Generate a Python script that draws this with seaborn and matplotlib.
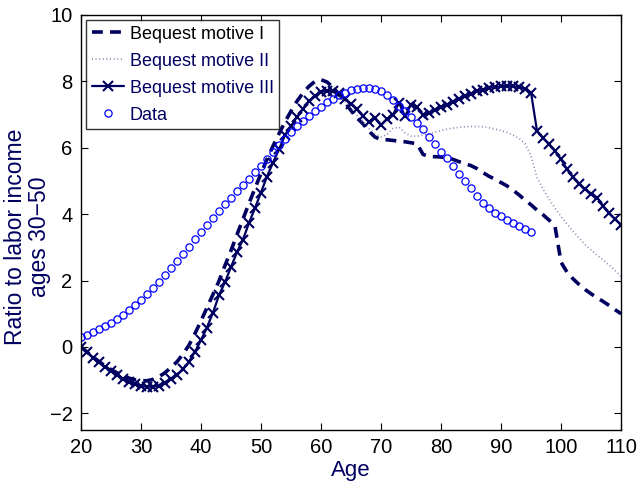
import numpy as np
import pandas as pd
import matplotlib
matplotlib.use("Agg")
import matplotlib.pyplot as plt
import seaborn as sns

ages_model = list(range(20, 111))
ages_data = list(range(20, 96))

bequest_I = [0.00, -0.15, -0.30, -0.44, -0.57, -0.68, -0.78, -0.87, -0.94, -0.99,
             -1.02, -1.02, -0.98, -0.90, -0.78, -0.62, -0.45, -0.22, 0.05, 0.40,
             0.78, 1.18, 1.58, 1.98, 2.45, 2.90, 3.38, 3.85, 4.32, 4.78,
             5.22, 5.65, 6.05, 6.42, 6.78, 7.10, 7.40, 7.65, 7.85, 8.00,
             8.05, 7.98, 7.82, 7.60, 7.38, 7.12, 6.90, 6.72, 6.50, 6.32,
             6.25, 6.24, 6.22, 6.20, 6.18, 6.15, 6.12, 5.80, 5.73, 5.73,
             5.72, 5.70, 5.65, 5.58, 5.52, 5.46, 5.37, 5.25, 5.14, 5.05,
             4.95, 4.85, 4.72, 4.58, 4.42, 4.28, 4.12, 3.98, 3.82, 3.62,
             2.55, 2.25, 2.05, 1.88, 1.73, 1.60, 1.48, 1.37, 1.25, 1.12,
             1.00]

bequest_II = [0.00, -0.15, -0.31, -0.46, -0.59, -0.71, -0.83, -0.94, -1.03, -1.10,
              -1.15, -1.17, -1.16, -1.13, -1.05, -0.94, -0.81, -0.64, -0.42, -0.12,
              0.22, 0.60, 1.05, 1.57, 1.98, 2.42, 2.87, 3.26, 3.75, 4.20,
              4.67, 5.14, 5.56, 5.96, 6.38, 6.66, 6.94, 7.18, 7.40, 7.56,
              7.68, 7.72, 7.68, 7.55, 7.40, 7.20, 6.98, 6.78, 6.58, 6.42,
              6.33, 6.40, 6.58, 6.62, 6.45, 6.35, 6.35, 6.38, 6.42, 6.47,
              6.52, 6.56, 6.59, 6.62, 6.63, 6.64, 6.64, 6.63, 6.60, 6.56,
              6.52, 6.46, 6.38, 6.28, 6.12, 5.75, 5.10, 4.75, 4.45, 4.18,
              3.93, 3.70, 3.48, 3.28, 3.08, 2.92, 2.76, 2.62, 2.47, 2.30,
              2.12]

bequest_III = [0.00, -0.15, -0.32, -0.47, -0.60, -0.72, -0.85, -0.96, -1.06, -1.13,
               -1.18, -1.20, -1.20, -1.17, -1.08, -0.97, -0.84, -0.68, -0.45, -0.15,
               0.20, 0.58, 1.03, 1.55, 1.95, 2.40, 2.85, 3.23, 3.73, 4.18,
               4.65, 5.13, 5.55, 5.95, 6.38, 6.65, 6.93, 7.17, 7.40, 7.55,
               7.68, 7.72, 7.71, 7.65, 7.48, 7.32, 7.16, 6.95, 6.78, 6.90,
               6.68, 6.87, 7.00, 7.35, 6.95, 7.30, 7.22, 7.00, 7.05, 7.15,
               7.22, 7.30, 7.38, 7.47, 7.56, 7.63, 7.70, 7.75, 7.80, 7.83,
               7.85, 7.86, 7.85, 7.83, 7.78, 7.66, 6.50, 6.30, 6.10, 5.90,
               5.65, 5.35, 5.12, 4.92, 4.75, 4.62, 4.50, 4.25, 4.02, 3.85,
               3.68]

data_vals = [0.30, 0.37, 0.45, 0.53, 0.62, 0.73, 0.84, 0.96, 1.10, 1.25,
             1.40, 1.58, 1.77, 1.96, 2.16, 2.37, 2.58, 2.80, 3.02, 3.24,
             3.46, 3.68, 3.89, 4.09, 4.29, 4.49, 4.69, 4.88, 5.07, 5.26,
             5.45, 5.65, 5.86, 6.07, 6.27, 6.46, 6.64, 6.81, 6.97, 7.11,
             7.24, 7.37, 7.48, 7.58, 7.66, 7.73, 7.78, 7.81, 7.81, 7.78,
             7.72, 7.60, 7.45, 7.27, 7.10, 6.92, 6.75, 6.55, 6.33, 6.10,
             5.88, 5.68, 5.45, 5.22, 5.00, 4.78, 4.55, 4.35, 4.17, 4.04,
             3.93, 3.83, 3.74, 3.65, 3.55, 3.45]

labels = ["Bequest motive I", "Bequest motive II", "Bequest motive III", "Data"]

navy = "#000060"
sns.set_theme(style="white")
plt.rcParams['font.family'] = ['Liberation Sans', 'DejaVu Sans']

fig = plt.figure(figsize=(6.37, 4.83), dpi=100)
ax = fig.add_axes([0.127, 0.110, 0.848, 0.859])

sns.lineplot(x=ages_model, y=bequest_I, ax=ax, color=navy, linewidth=2.6,
             label=labels[0])
ax.lines[-1].set_dashes((3.0, 2.0))
sns.lineplot(x=ages_model, y=bequest_II, ax=ax, color="#8080b0", linewidth=1.3,
             label=labels[1])
ax.lines[-1].set_dashes((0.5, 1.5))
sns.lineplot(x=ages_model, y=bequest_III, ax=ax, color=navy, linewidth=1.6,
             marker="x", markersize=6.5, markeredgewidth=1.5, markeredgecolor=navy,
             label=labels[2])
sns.lineplot(x=ages_data, y=data_vals, ax=ax, color="#0000ff", linestyle="none",
             marker="o", markersize=5.2, markerfacecolor="none",
             markeredgecolor="#0000ff", markeredgewidth=0.9, label=labels[3])

ax.set_xlim(20, 110)
ax.set_ylim(-2.5, 10)
ax.set_xticks(range(20, 111, 10))
ax.set_yticks(range(-2, 11, 2))
ax.set_yticklabels(["\u22122", "0", "2", "4", "6", "8", "10"])
ax.tick_params(direction="in", length=5, width=0.8, labelsize=14.5, colors="black",
               top=True, right=True, bottom=True, left=True, pad=6)
for s in ax.spines.values():
    s.set_visible(True)
    s.set_color("black")
    s.set_linewidth(1.0)

ax.set_xlabel("Age", fontsize=16, color=navy, labelpad=2)
ax.set_ylabel("Ratio to labor income\nages 30\u221250", fontsize=16.5, color=navy,
              linespacing=1.05)
ax.yaxis.set_label_coords(-0.056, 0.465)

leg = ax.legend(loc="upper left", fontsize=13, frameon=True, fancybox=False,
                borderpad=0.3, labelspacing=0.55, handlelength=1.8,
                handletextpad=0.3, borderaxespad=0.3)
leg.get_frame().set_edgecolor("black")
leg.get_frame().set_linewidth(1.0)
for i, t in enumerate(leg.get_texts()):
    t.set_color("black" if i == 0 else navy)

fig.savefig("out.png", dpi=100)
